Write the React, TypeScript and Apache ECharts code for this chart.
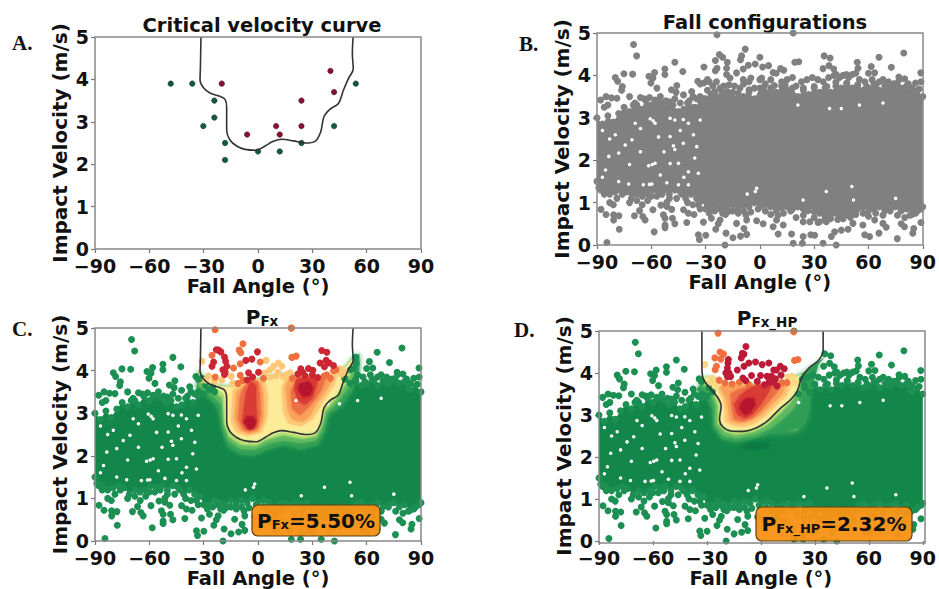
import React, { useEffect, useRef } from "react";
import * as echarts from "echarts";

type P = number[];
const titles = ["Critical velocity curve", "Fall configurations"];
const annotationC = "5.50%";
const annotationD = "2.32%";

const greenSamples: P[] = [[-48.2,3.9],[-36.3,3.9],[-24.1,3.5],[-24.1,3.1],[-30.2,2.9],[-18.2,2.5],[-18.2,2.1],[0,2.3],[12,2.3],[24,2.5],[42,2.9],[54,3.9]];
const redSamples: P[] = [[-20,3.9],[-6,2.7],[10,2.9],[12,2.7],[24,2.9],[24,3.5],[42,3.7],[40,4.2]];

const curveC: P[] = [[-31.5,5],[-31.8,4.29],[-32,3.98],[-30.2,3.81],[-26.5,3.68],[-21,3.6],[-18.2,3.53],[-17.3,3.35],[-17.3,2.8],[-15.5,2.57],[-11.8,2.43],[-7.2,2.35],[-0.7,2.33],[3.9,2.43],[8.5,2.54],[13.1,2.59],[19.5,2.55],[26,2.5],[31.5,2.54],[34.6,2.76],[36.4,3.12],[39.8,3.3],[44.4,3.43],[47.1,3.74],[49.9,4.02],[52.6,4.25],[52.1,4.6],[52.5,5]];
const curveD: P[] = [[-32.8,5],[-32.8,4.16],[-32.2,3.88],[-28.5,3.65],[-23.9,3.41],[-22.1,3.21],[-23,2.9],[-21.2,2.72],[-16.6,2.62],[-10.1,2.61],[-2.8,2.69],[3.7,2.86],[10.1,3.13],[16.6,3.37],[20.2,3.57],[22.6,3.88],[26.7,4.12],[32.2,4.31],[34.6,4.55],[34.6,5]];

const upperPoints: P[] = [[-69.8,4.73],[-68.1,4.46],[-75.1,4.04],[-70.3,4.03],[-79.9,3.95],[-78.6,3.86],[-76,3.74],[-76.4,3.65],[-47,4.31],[-42.6,4.09],[-52.5,4.15],[-52.5,4.02],[-58.2,4.07],[-61.3,3.98],[-59.1,3.94],[-60.2,3.82],[-56.9,3.7],[-45.9,3.76],[-48.9,3.66],[-46.3,3.6],[-42.2,3.54],[-37.7,3.62],[-34.3,3.86],[-30.9,4.2],[-29,3.9],[-23.7,4.96],[-24.6,4.35],[-22.4,4.49],[-20.6,4.43],[-23.7,4.17],[-24.6,4.11],[-18,4.31],[-18.4,4.17],[-18.4,4.02],[-16.5,3.94],[-12.9,4.06],[-10.1,4.46],[-8.1,4.62],[-10.7,4.37],[-9.2,4.15],[-6.4,4.24],[-2.6,4.27],[0,4.43],[1.5,4.2],[4.8,4.23],[-9.2,3.9],[-5,3.94],[1,3.94],[7.3,4.07],[11.4,4.16],[13.2,4.12],[19.3,4.31],[21.5,4.32],[18.4,5],[35.5,4.46],[38.8,4.41],[34.9,4.16],[38.2,4.23],[40.8,4.15],[42.2,4.02],[47.8,4.02],[53.8,4.31],[54.2,4.17],[61.5,4.21],[65.8,4.43],[63.4,4.06],[72.6,4.19],[79.5,4.53],[76.8,3.96],[88.9,4.06]];
const lowerPoints: P[] = [[-84.5,0.06],[-77.7,0.37],[-85,0.72],[-87.8,0.84],[-80.8,0.71],[-77.9,0.69],[-80.8,0.59],[-69.3,0.69],[-66.5,0.81],[-64.7,0.67],[-63.4,0.59],[-58.4,0.31],[-59.1,0.83],[-54.7,0.94],[-51.4,1.01],[-51.4,0.91],[-48.7,0.84],[-53.3,0.71],[-52.4,0.63],[-52.4,0.47],[-52.4,0.41],[-48.3,0.63],[-47,0.5],[-40.4,0.53],[-42.2,0.83],[-39.5,0.75],[-36.4,0.72],[-31.2,0.54],[-34,0.24],[-33.4,0.13],[-29.9,0.23],[-26.8,0.63],[-24.4,0.37],[-23,0.5],[-22,0.59],[-20.6,0.75],[-17.5,0.79],[-18.7,0.28],[-19.3,0],[-14.9,0.17],[-10.7,0.21],[-7.3,0.25],[-12.9,0.51],[-8.8,0.39],[-7.7,0.71],[-7.3,0.59],[-1.8,0.57],[1.8,0.5],[10.1,0.26],[7.3,0.43],[9.2,0.59],[12.9,0.47],[17.5,0.26],[18.4,0.04],[23.5,0.04],[23.9,0.2],[28.1,0.24],[30.3,0.23],[34.9,0.04],[26.6,0.81],[23.9,0.55],[27.6,0.55],[32.1,0.53],[36.7,0.55],[39.5,0.2],[42.2,0],[41.3,0.31],[45,0.35],[48.7,0.37],[51.4,0.51],[56.9,0.47],[57.9,0.24],[60.6,0.2],[65.8,0.28],[63.4,0.59],[68,0.51],[69.8,0.42],[75.9,0.15],[78.1,0.5],[79.9,0.43],[84.5,0.28],[85,0.39],[89,0.53]];
const topFringe: P[] = [[-33,3.8],[-31,3.82],[-28,3.85],[-26,3.75],[-24,3.85],[-22,3.7],[-20,3.75],[-17,3.78],[-14,3.75],[-11,3.7],[-9,3.8],[-6,3.85],[-3,3.7],[0,3.9],[3,3.8],[6,3.9],[9,4.05],[12,3.85],[15,3.9],[18,3.95],[20,3.75],[23,3.85],[26,3.9],[29,3.95],[32,3.9],[35,3.85],[38,3.95],[41,4],[44,3.95],[46,4],[49,3.95],[51,4.02],[53,4.05],[55,3.9],[58,3.85],[60,4.05],[62,3.9],[66,3.85],[68,3.9],[71,3.85],[74,3.8],[77,3.9],[80,3.92],[82,3.8],[84,3.7],[86,3.82],[89,3.85],[-29,3.65],[-25,3.62],[-18,3.62],[-12,3.58],[-6,3.66],[2,3.72],[8,3.76],[14,3.76],[24,3.7],[30,3.74],[37,3.74],[42,3.84],[48,3.82],[54,3.78],[59,3.74],[64,3.76],[70,3.72],[76,3.76],[83,3.6],[88,3.68],[-88,3.42],[-85,3.5],[-82,3.47],[-79,3.46],[-84,3.3],[-86,3.25],[-72,3.5],[-70,3.3],[-68,3.3],[-66,3.48],[-64,3.45],[-61,3.48],[-58,3.42],[-55,3.5],[-52,3.4],[-50,3.38],[-47,3.45],[-44,3.35],[-40,3.35],[-37,3.5],[-35,3.45],[-33,3.5],[-31,3.45]];
const bottomFringe: P[] = [[-88,1.3],[-86,1.2],[-83,1],[-81,0.95],[-79,1.1],[-76,1.2],[-72,1],[-68,1.05],[-65,0.95],[-62,1.05],[-60,1.15],[-57,1.15],[-54,1.2],[-50,1.1],[-46,1.1],[-43,1.2],[-40,1],[-37,0.95],[-34,0.95],[-33,0.85],[-28,0.75],[-25,0.8],[-22,0.85],[-19,0.72],[-15,0.8],[-12,0.75],[-9,0.8],[-5,0.78],[-1,0.85],[3,0.8],[6,0.72],[10,0.7],[13,0.75],[17,0.8],[20,0.65],[24,0.7],[30,0.65],[33,0.55],[36,0.6],[39,0.62],[43,0.6],[46,0.62],[50,0.65],[53,0.72],[57,0.75],[60,0.68],[64,0.75],[68,0.7],[72,0.8],[76,0.7],[80,0.65],[83,0.7],[86,0.75],[89,0.85]];

const bandOutline: P[] = [[-90,3],[-87,2.85],[-84,3.05],[-81,2.9],[-78,3.1],[-75,3.25],[-72,3.15],[-69,3.35],[-66,3.2],[-63,3.4],[-60,3.3],[-57,3.4],[-54,3.35],[-51,3.25],[-48,3.3],[-45,3.15],[-42,3.2],[-39,3.4],[-36,3.25],[-33,3.4],[-30,3.45],[-27,3.55],[-24,3.5],[-21,3.6],[-18,3.5],[-15,3.6],[-12,3.45],[-9,3.5],[-6,3.6],[-3,3.45],[0,3.7],[3,3.6],[6,3.7],[9,3.6],[12,3.75],[15,3.65],[18,3.7],[21,3.5],[24,3.65],[27,3.55],[30,3.7],[33,3.6],[36,3.7],[39,3.6],[42,3.75],[45,3.7],[48,3.8],[51,3.7],[54,3.75],[57,3.65],[60,3.7],[63,3.8],[66,3.65],[69,3.75],[72,3.7],[75,3.8],[78,3.7],[81,3.75],[84,3.55],[87,3.65],[90,3.5],[90,0.9],[87,0.8],[84,0.72],[81,0.85],[78,0.8],[75,0.9],[72,0.85],[69,0.8],[66,0.9],[63,0.85],[60,0.8],[57,0.9],[54,0.85],[51,0.75],[48,0.72],[45,0.68],[42,0.75],[39,0.7],[36,0.68],[33,0.75],[30,0.78],[27,0.9],[24,0.85],[21,0.9],[18,0.85],[15,0.9],[12,0.88],[9,0.8],[6,0.9],[3,0.95],[0,0.9],[-3,1],[-6,0.9],[-9,0.95],[-12,0.88],[-15,0.95],[-18,0.85],[-21,0.9],[-24,0.95],[-27,0.85],[-30,0.85],[-32,1.05],[-35,1.1],[-38,1.2],[-41,1.1],[-44,1.25],[-47,1.3],[-50,1.2],[-53,1.3],[-56,1.25],[-59,1.3],[-62,1.2],[-65,1.15],[-68,1.2],[-71,1.1],[-74,1.25],[-77,1.3],[-80,1.25],[-83,1.2],[-86,1.3],[-89,1.35],[-90,1.5]];

const bandGaps: P[] = [[-60.6,2.98],[-57.9,2.87],[-59,2.93],[-49.6,2.99],[-47,2.95],[-47.8,2.34],[-47,2.25],[-42.3,2.4],[-49.6,2.56],[-39.5,2.87],[-36.7,2.6],[-34.9,2.32],[-61.5,1.87],[-59.5,1.9],[-57.9,1.93],[-49.6,1.92],[-45,1.93],[-39.5,1.73],[-34,1.69],[-79.9,2.6],[-74.4,2.36],[-78,2.17],[-83.5,2.09],[-85.3,1.77],[-70.7,2.48],[-68.9,2.87],[-64.4,1.42],[-61,1.43],[-59.7,1.44],[-51.4,1.47],[-45,1.42],[-39.5,1.42],[-78,1.5],[-72.5,1.44],[-42.3,2.96],[-87,2.7],[-87,1.6],[-56,2.55],[-66,2.2],[-72,1.9],[-33,2.95],[-36,2.05],[-53,2.2],[-44,2.7],[-66,2.75],[-83,2.5],[-55,1.65],[-42,1.6],[-1.8,1.34],[-2.5,1.26],[21,3.3],[55,3.3],[50.8,1.38],[51.7,1.06],[23.9,1.06],[36.7,1.26],[45,3.22],[38.5,3.22],[-7,1.2],[68,3.35],[75,1.1]];

const cTopEdge: P[] = [[53,4.3],[47,4],[40,3.8],[30,3.75],[20,3.85],[12,3.9],[4,3.75],[-4,3.8],[-12,3.6],[-19,3.62],[-28,3.68],[-33,4]];
const cG1: P[] = [[-34,3.55],[-26,3.3],[-22,3.1],[-20,2.6],[-17,2.22],[-10,2.02],[-2,2],[6,2.15],[14,2.25],[24,2.15],[33,2.25],[37,2.55],[39,2.95],[46,3.15],[52,3.5],[56,4],[56,4.4]];
const cG2: P[] = [[-33,3.65],[-25,3.4],[-20,3.2],[-19,2.7],[-16.5,2.35],[-10,2.16],[-2,2.14],[6,2.28],[14,2.36],[24,2.3],[32,2.36],[35.5,2.6],[38,3],[44,3.25],[50,3.6],[55,4.1],[55,4.4]];
const cG3: P[] = [[-32.5,3.75],[-24,3.5],[-19.5,3.35],[-18.5,2.75],[-16,2.45],[-10,2.26],[-1,2.24],[5,2.38],[14,2.48],[25,2.4],[32,2.46],[35,2.7],[37,3.05],[43,3.32],[49,3.72],[54,4.2]];
const cG4: P[] = [[-32,3.85],[-22,3.55],[-18.5,3.45],[-18,2.8],[-15,2.5],[-8,2.32],[-1,2.3],[4,2.42],[13,2.56],[26,2.46],[31.5,2.51],[34.5,2.72],[36,3.1],[42,3.37],[47.5,3.72],[52,4.25]];
const cY: P[] = [[-31,3.9],[-20,3.6],[-17,3.5],[-16.5,2.8],[-14,2.55],[-8,2.42],[-1,2.4],[4,2.5],[13,2.65],[26,2.58],[31,2.6],[34,2.8],[36,3.2],[42,3.45],[47,3.8],[50,4.05]];
const cL1: P[] = [[-14,3.55],[-15,2.8],[-12,2.55],[-6,2.47],[2,2.55],[5,2.9],[5.5,3.4],[4,3.75],[-3,3.8],[-10,3.65]];
const cL2: P[] = [[-12,3.5],[-13,2.85],[-10,2.6],[-5,2.52],[0,2.57],[3,2.85],[3,3.4],[2,3.7],[-3,3.8],[-9,3.6]];
const cL3: P[] = [[-10,3.4],[-11,2.85],[-8,2.62],[-4,2.58],[0,2.65],[1.5,3],[1,3.5],[0,3.75],[-4,3.8],[-8,3.6]];
const cL4: P[] = [[-7.5,3.2],[-8.5,2.8],[-6,2.62],[-3,2.62],[-0.5,2.8],[-1,3.2],[-1,3.65],[-4,3.75],[-6.5,3.5]];
const cL5: P[] = [[-8,2.8],[-5,2.62],[-2,2.65],[-1,2.8],[-2.5,2.92],[-6,2.92]];
const cR1: P[] = [[13,3.6],[14,3],[17,2.75],[24,2.7],[30,2.85],[33,3.05],[37,3.35],[42,3.65],[44,3.95],[35,3.85],[22,3.85],[15,3.8]];
const cR2: P[] = [[15,3.6],[16.5,3.05],[19,2.85],[25,2.8],[29,2.95],[32,3.2],[36,3.45],[40,3.7],[40,3.85],[30,3.85],[22,3.85],[17,3.8]];
const cR3: P[] = [[18,3.5],[19,3.1],[23,2.95],[27,3.1],[31,3.3],[35,3.55],[37,3.8],[30,3.85],[22,3.85]];
const cR4: P[] = [[20,3.55],[22,3.3],[26,3.2],[30,3.35],[32,3.6],[33,3.8],[27,3.85],[21,3.8]];
const cR5: P[] = [[22,3.55],[25,3.38],[29,3.42],[30.5,3.6],[28,3.75],[23,3.7]];

const dTopEdge: P[] = [[22,3.95],[14,3.78],[4,3.7],[-5,3.7],[-13,3.72],[-22,3.72],[-30,3.9]];
const dG1: P[] = [[-36,3.6],[-30,3.4],[-27,3.1],[-26.5,2.7],[-22,2.42],[-14,2.34],[-3,2.44],[6,2.55],[14,2.6],[22,2.7],[27,3.1],[28,3.6],[32,4.2],[36,4.4]];
const dG2: P[] = [[-35,3.8],[-28,3.5],[-25.5,3.2],[-25.5,2.75],[-21,2.5],[-14,2.44],[-3,2.52],[5,2.67],[12,2.9],[18,3.15],[22,3.45],[24,3.8]];
const dG3: P[] = [[-33.5,3.85],[-26,3.5],[-24,3.2],[-24,2.8],[-20,2.6],[-14,2.52],[-4,2.6],[3,2.75],[10,3.02],[16,3.28],[20.5,3.55],[23,3.9]];
const dG4: P[] = [[-33,3.9],[-24,3.45],[-22.5,3.2],[-23,2.85],[-19.5,2.66],[-12,2.6],[-3,2.67],[4,2.85],[10,3.1],[16,3.36],[20,3.6],[22,3.9]];
const dY: P[] = [[-30,3.75],[-23,3.35],[-21,3.15],[-22,2.85],[-19,2.72],[-12,2.66],[-4,2.72],[3,2.9],[9,3.15],[15,3.4],[19,3.65],[20,3.9]];
const dO1: P[] = [[-25,3.72],[-21,3.35],[-20,3.1],[-20,2.85],[-16,2.75],[-9,2.72],[-3,2.8],[3,3],[8,3.2],[14,3.45],[17,3.72],[15,3.75],[4,3.7],[-8,3.7]];
const dO2: P[] = [[-23,3.68],[-19,3.35],[-18,3.05],[-17,2.85],[-12,2.8],[-6,2.85],[0,3],[6,3.25],[12,3.5],[14,3.72],[5,3.72],[-8,3.7],[-18,3.7]];
const dO3: P[] = [[-17,3.5],[-16,3.1],[-15,2.9],[-10,2.85],[-5,2.92],[0,3.1],[5,3.35],[10,3.6],[11,3.75],[3,3.75],[-5,3.7],[-13,3.6]];
const dO4: P[] = [[-15,3.25],[-13,3],[-9,2.92],[-5,3],[-1,3.2],[3,3.45],[6,3.7],[0,3.72],[-6,3.65],[-12,3.45]];
const dO5: P[] = [[-12,3.15],[-9,3],[-6,3.05],[-3,3.25],[-4,3.4],[-8,3.4],[-11,3.3]];
const dGlow: P[] = [[6,2.62],[12,2.6],[20,2.62],[25,2.9],[24,3.2],[18,3.15],[11,2.9]];
const dDark: P[] = [[-12,2.25],[-5,2.18],[3,2.2],[6,2.28],[0,2.35],[-8,2.33]];

const cRedDots: P[] = [[-21.8,4.48],[-20.5,4.44],[-23,4.49],[-24.5,4.2],[-25.4,4.1],[-18.5,4.32],[-17.9,4.22],[-17.2,4.1],[-19.4,4.02],[-18.1,3.96],[-18.5,3.91],[-0.3,4.44],[-3.4,4.27],[-6.7,4.24],[-5.2,3.95],[0.3,3.96],[38,4.43],[35.2,4.47],[37.6,4.24],[39.3,4.18],[41.7,4.12],[34.3,4.18],[36.7,4.09],[23.6,4.04],[24.7,3.96],[27.9,4.05],[30.3,4.01],[-3,3.85],[-6,3.78],[22,3.92],[26,3.88],[30,3.9],[33,3.84]];
const cOrangeDots: P[] = [[-23.7,4.96],[18.4,5],[-8.3,4.63],[-10.4,4.48],[-9.5,4.42],[-25.4,4.36],[-9.8,4.16],[-13.5,4.06],[1.2,4.2],[18.7,4.31],[21.1,4.34],[41.7,4],[43.1,4.02],[-23.6,3.85],[-9.8,3.89],[-8.3,3.77],[36.5,3.87],[38,3.9],[40,3.82],[3,3.82],[-11,3.7],[19,3.82]];
const cPaleDots: P[] = [[4.5,4.24],[8.6,4.1],[4,3.95],[-14.8,3.87],[-27.3,3.87],[-31,4.22],[11.3,4.18],[13.2,4.1],[11,3.96],[17.8,3.95],[45.3,4.04],[6.7,4.02],[16,3.91],[-20,3.78],[-24,3.75],[-29,3.78],[-14,3.7],[7,3.85],[10,3.88],[14,3.86],[46,3.92],[48,3.96]];
const dRedDots: P[] = [[-8.3,4.63],[-10.3,4.47],[-9.4,4.45],[-10.9,4.36],[-18.1,4.32],[-18.3,4.24],[-18.6,4.12],[-19.5,4],[-17.7,4],[-18.6,3.91],[-16.8,3.92],[-13.1,4.07],[-9.4,4.16],[-6.7,4.24],[-3,4.26],[0.7,4.2],[4.4,4.24],[-10,3.88],[-8.5,3.82],[-5.2,3.94],[-0.2,3.94],[3.5,3.92],[7.1,4.07],[8.6,4.07],[10.8,4.16],[13,4.1],[5.9,3.92],[8.1,3.86],[11.2,3.95],[9,3.69],[4.4,3.77],[-2,3.8],[2,3.72],[7,3.78]];
const dOrangeDots: P[] = [[-22.7,4.5],[-20.8,4.45],[-25.6,4.36],[-22.3,4.33],[-24.7,4.16],[-25.4,4.08],[-23.2,3.83],[18.7,4.3],[20.6,4.32],[-23.8,4.95],[18.2,4.98],[14.5,3.77],[11.7,3.77],[-20,3.76],[-16,3.74],[-12,3.78],[-7,3.74]];
const dPaleDots: P[] = [[-31.1,4.2],[17.3,3.92],[14.9,3.91],[-26.9,3.88],[-28,3.78],[-24.5,3.72],[16,3.74],[19,3.78]];

const inside = (pt: P, curve: P[]) => {
  let hit = false;
  for (let i = 0, j = curve.length - 1; i < curve.length; j = i++) {
    const a = curve[i], b = curve[j];
    if (a[1] > pt[1] !== b[1] > pt[1] && pt[0] < ((b[0] - a[0]) * (pt[1] - a[1])) / (b[1] - a[1]) + a[0]) hit = !hit;
  }
  return hit;
};
const allPoints = [...upperPoints, ...lowerPoints, ...topFringe, ...bottomFringe, ...bandOutline];

const FONT = "DejaVu Sans";
const area = (g: number, pts: P[], fill: string, blur = 0) => ({
  type: "custom", coordinateSystem: "cartesian2d", xAxisIndex: g, yAxisIndex: g, silent: true, clip: true,
  data: [pts[0]],
  renderItem: (_: any, api: any) => ({
    type: "polygon",
    shape: { points: pts.map((q) => api.coord(q)) },
    style: blur ? { fill, shadowBlur: blur, shadowColor: fill } : { fill },
  }),
});
const dots = (g: number, data: P[], color: string, size = 7, extra: any = {}) => ({
  type: "scatter", xAxisIndex: g, yAxisIndex: g, data, symbolSize: size, clip: true, silent: true,
  itemStyle: { color, opacity: 1, ...extra },
});
const curveLine = (g: number, data: P[]) => ({
  type: "line", xAxisIndex: g, yAxisIndex: g, data, showSymbol: false, smooth: 0.35, silent: true, clip: true,
  lineStyle: { color: "#333", width: 1.6 },
});

const grids = [
  { left: 95, top: 37, width: 326, height: 212 },
  { left: 597, top: 33, width: 326, height: 212 },
  { left: 95, top: 328, width: 326, height: 213 },
  { left: 599, top: 331, width: 326, height: 212 },
];

const boxText = (x: number, y: number, w: number, h: number, text: string) => ({
  type: "group", z: 100, children: [
    { type: "rect", shape: { x, y, width: w, height: h, r: 6 }, style: { fill: "rgba(247,147,22,0.96)", stroke: "#5a4010", lineWidth: 1.2 }, z: 100 },
    { type: "text", z: 101, x: x + w / 2, y: y + h / 2, style: {
      text, align: "center", verticalAlign: "middle", fill: "#111",
      rich: {
        p: { fontFamily: FONT, fontWeight: "bold", fontSize: 20, fill: "#111" },
        s: { fontFamily: FONT, fontWeight: "bold", fontSize: 13, fill: "#111", padding: [8, 0, 0, 0] },
      },
    } },
  ],
});
const letter = (x: number, y: number, text: string) => ({
  type: "text", x, y, z: 100, style: { text, fontFamily: "Liberation Serif", fontWeight: "bold", fontSize: 21, fill: "#111", verticalAlign: "middle" },
});

function buildOption() {
  const xAxis = grids.map((_, i) => ({
    type: "value", gridIndex: i, min: -90, max: 90, interval: 30,
    name: "Fall Angle (°)", nameLocation: "middle", nameGap: 27,
    nameTextStyle: { fontFamily: FONT, fontWeight: "bold", fontSize: 19.5, color: "#111" },
    axisLine: { show: false, onZero: false }, splitLine: { show: false },
    axisTick: { show: true, length: 4, lineStyle: { color: "#777", width: 1.2 } },
    axisLabel: { fontFamily: FONT, fontWeight: "bold", fontSize: 19, color: "#111", margin: 7, hideOverlap: false, showMinLabel: true, showMaxLabel: true,
      formatter: (v: number) => (v < 0 ? "\u2212" + Math.abs(v) : String(v)) },
  }));
  const yAxis = grids.map((_, i) => ({
    type: "value", gridIndex: i, min: 0, max: 5, interval: 1,
    name: "Impact Velocity (m/s)", nameLocation: "middle", nameGap: 25,
    nameTextStyle: { fontFamily: FONT, fontWeight: "bold", fontSize: 20, color: "#111" },
    axisLine: { show: false, onZero: false }, splitLine: { show: false },
    axisTick: { show: true, length: 4, lineStyle: { color: "#777", width: 1.2 } },
    axisLabel: { fontFamily: FONT, fontWeight: "bold", fontSize: 19, color: "#111", margin: 6 },
  }));

  const greenC = allPoints.filter((p) => !inside(p, curveC));
  const greenD = allPoints.filter((p) => !inside(p, curveD));
  const gCol = "#128749";
  const dotG = "#1c8f52";
  const shades = { g1: "#2f9e55", g2: "#5db85f", g3: "#a5d86d", g4: "#e3ef93", y: "#feeb9a", o1: "#fdc878", o2: "#f9a25a", o3: "#ee6e45", o4: "#d93a35", o5: "#b5172f" };

  const series: any[] = [
    curveLine(0, curveC),
    dots(0, greenSamples, "#0f5c3c", 5.5, { borderColor: "#123", borderWidth: 0.5 }),
    dots(0, redSamples, "#8a1030", 5.5, { borderColor: "#311", borderWidth: 0.5 }),

    area(1, bandOutline, "#808080"),
    dots(1, bandGaps, "#ffffff", 3.5),
    dots(1, allPoints, "#808080", 7),

    area(2, bandOutline, gCol),
    dots(2, bandGaps, "#ffffff", 3.5),
    dots(2, greenC, dotG, 7),
    area(2, [...cG1, ...cTopEdge], shades.g1, 5),
    area(2, [...cG2, ...cTopEdge], shades.g2, 4),
    area(2, [...cG3, ...cTopEdge], shades.g3, 3),
    area(2, [...cG4, ...cTopEdge], shades.g4, 3),
    area(2, [...cY, ...cTopEdge], shades.y, 3),
    area(2, cL1, shades.o1, 3), area(2, cR1, shades.o1, 3),
    area(2, cL2, shades.o2, 3), area(2, cR2, shades.o2, 3),
    area(2, cL3, shades.o3, 3), area(2, cR3, shades.o3, 3),
    area(2, cL4, shades.o4, 3), area(2, cR4, shades.o4, 3),
    area(2, cL5, shades.o5, 3), area(2, cR5, shades.o5, 3),
    dots(2, cPaleDots, "#fdc877", 7),
    dots(2, cOrangeDots, "#ef6f3e", 7),
    dots(2, cRedDots, "#cc2632", 7),
    curveLine(2, curveC),

    area(3, bandOutline, gCol),
    dots(3, bandGaps, "#ffffff", 3.5),
    dots(3, greenD, dotG, 7),
    area(3, dDark, "#0e7a42", 6),
    area(3, dGlow, "#5db85f", 9),
    area(3, [...dG1, ...dTopEdge], shades.g1, 5),
    area(3, [...dG2, ...dTopEdge], shades.g2, 4),
    area(3, [...dG3, ...dTopEdge], shades.g3, 3),
    area(3, [...dG4, ...dTopEdge], shades.g4, 3),
    area(3, [...dY, ...dTopEdge], shades.y, 3),
    area(3, dO1, shades.o1, 3),
    area(3, dO2, shades.o2, 3),
    area(3, dO3, shades.o3, 3),
    area(3, dO4, shades.o4, 3),
    area(3, dO5, shades.o5, 3),
    dots(3, dPaleDots, "#fdd882", 7),
    dots(3, dOrangeDots, "#ef6f3e", 7),
    dots(3, dRedDots, "#bd1a38", 7),
    curveLine(3, curveD),
  ];

  const titleRich = {
    p: { fontFamily: FONT, fontWeight: "bold", fontSize: 20, color: "#111" },
    s: { fontFamily: FONT, fontWeight: "bold", fontSize: 13.5, color: "#111", padding: [8, 0, 0, 0] },
  };
  return {
    animation: false,
    backgroundColor: "#ffffff",
    grid: grids.map((g) => ({ ...g, show: false, containLabel: false })),
    xAxis, yAxis, series,
    title: [
      { text: titles[0], left: 257, top: 10, textAlign: "center", textStyle: { fontFamily: FONT, fontWeight: "bold", fontSize: 19.5, color: "#111" } },
      { text: titles[1], left: 760, top: 7, textAlign: "center", textStyle: { fontFamily: FONT, fontWeight: "bold", fontSize: 19.5, color: "#111" } },
      { text: "{p|P}{s|Fx}", left: 257, top: 301, textAlign: "center", textStyle: { rich: titleRich } },
      { text: "{p|P}{s|Fx_HP}", left: 762, top: 302, textAlign: "center", textStyle: { rich: titleRich } },
    ],
    graphic: [
      ...grids.map((g) => ({ type: "rect", z: 90, silent: true, shape: { x: g.left, y: g.top, width: g.width, height: g.height }, style: { fill: "none", stroke: "#888", lineWidth: 1.5 } })),
      letter(12, 43, "A."), letter(519, 44, "B."), letter(12, 329, "C."), letter(514, 330, "D."),
      boxText(252, 505, 128, 31, "{p|P}{s|Fx}{p|=" + annotationC + "}"),
      boxText(756, 507, 156, 34, "{p|P}{s|Fx_HP}{p|=" + annotationD + "}"),
    ],
  };
}

export default function App() {
  const ref = useRef<HTMLDivElement>(null);
  useEffect(() => {
    if (!ref.current) return;
    const chart = echarts.init(ref.current, undefined, { renderer: "svg" });
    chart.setOption(buildOption() as any);
    return () => chart.dispose();
  }, []);
  return <div ref={ref} style={{ position: "absolute", left: 0, top: 0, width: 939, height: 589, background: "#fff" }} />;
}
